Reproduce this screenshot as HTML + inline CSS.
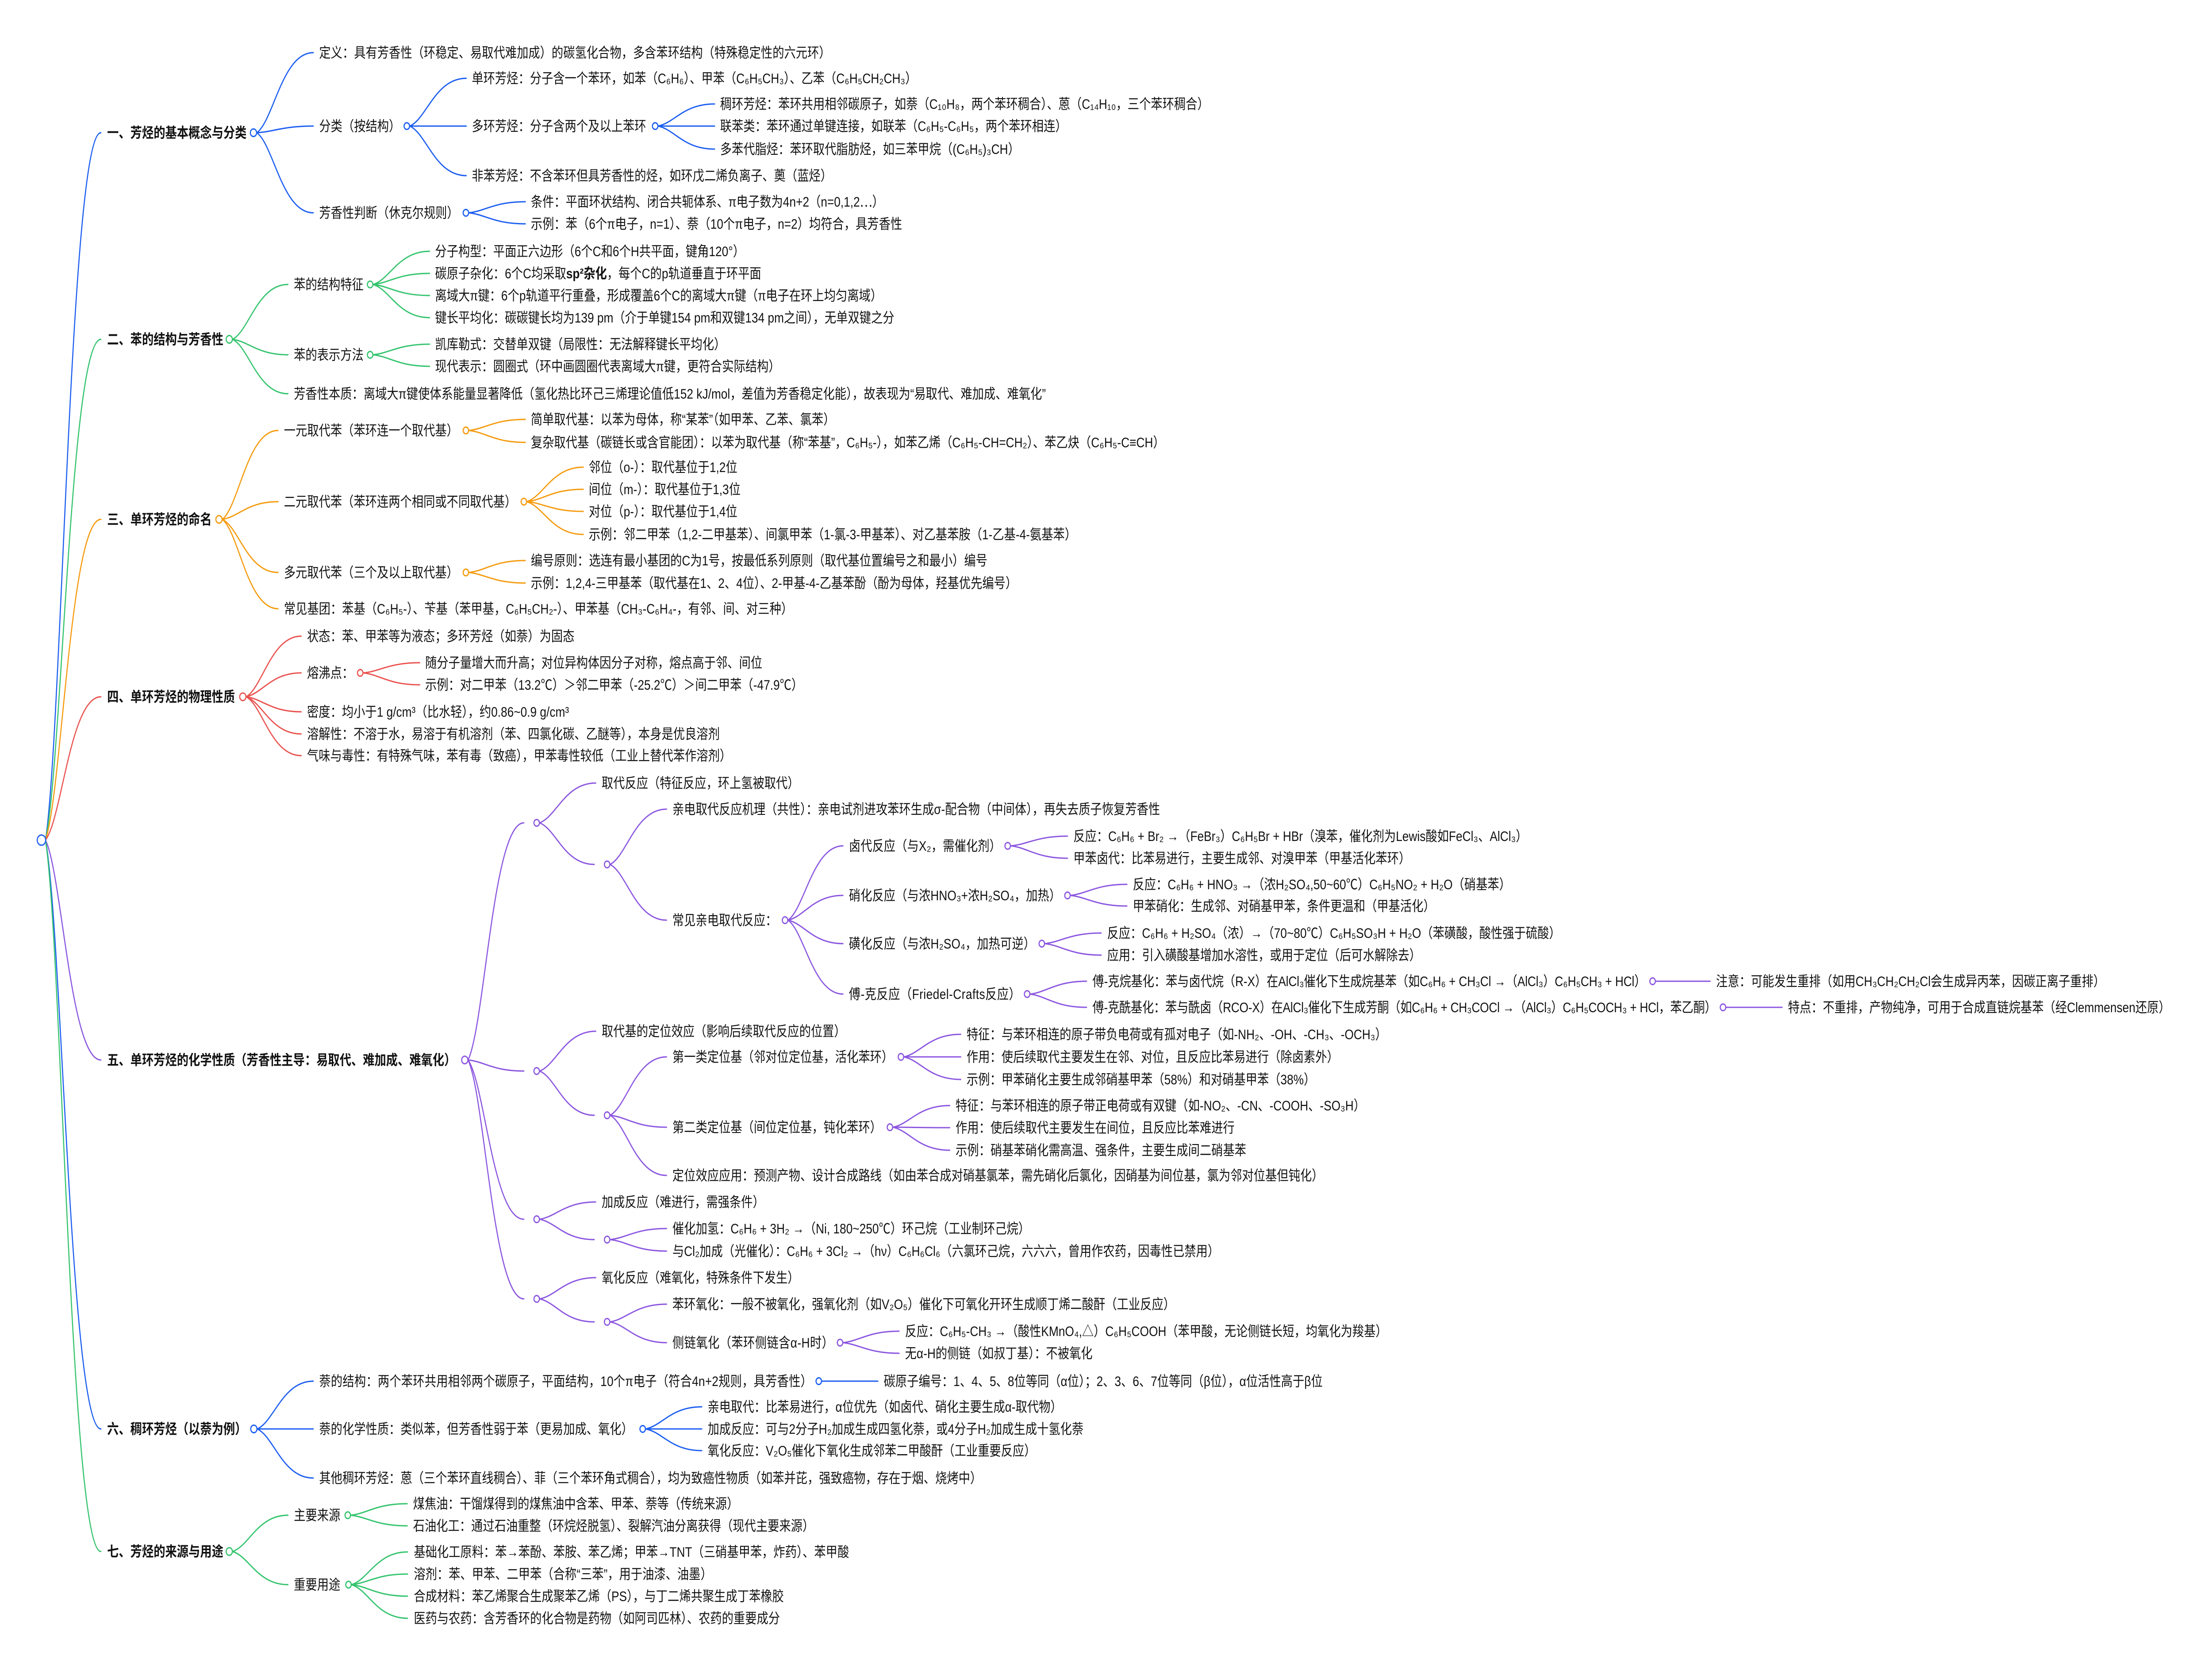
<!DOCTYPE html>
<html><head><meta charset="utf-8"><title>芳烃</title>
<style>
html,body{margin:0;padding:0;background:#fff;width:100%;height:100%;overflow:hidden;}
svg.main{display:block;position:fixed;left:0;top:0;width:100vw;height:100vh;}
</style></head>
<body>
<svg class="main" viewBox="0 0 6030 3741" preserveAspectRatio="none" xmlns="http://www.w3.org/2000/svg">
<style>
text{font-family:"Liberation Sans","Noto Sans CJK SC",sans-serif;font-size:31.7px;fill:#111}
.b{font-weight:bold}
path{fill:none;stroke-width:3;stroke-linecap:round}
circle{fill:#fff;stroke-width:3}
.bl{stroke:#1d5ff0}.gr{stroke:#35c46e}.or{stroke:#f59b0f}.rd{stroke:#e9534f}.pu{stroke:#8c57e0}
</style>
<rect width="6030" height="3741" fill="#fff"/>

<!-- root edges -->
<path class="bl" d="M124 1899c45 -240 68 -1599 151 -1599"/>
<path class="gr" d="M124 1899c45 -170 68 -1132 151 -1132"/>
<path class="or" d="M124 1899c45 -109 68 -725 151 -725"/>
<path class="rd" d="M124 1899c45 -49 68 -324 151 -324"/>
<path class="pu" d="M124 1899c45 75 68 497 151 497"/>
<path class="bl" d="M124 1899c45 200 68 1331 151 1331"/>
<path class="gr" d="M124 1899c45 241 68 1608 151 1608"/>

<!-- section 1 edges -->
<g class="bl">
<path d="M700 300c46 -27 69 -181 154 -181"/>
<path d="M700 300c46 -2 69 -15 154 -15"/>
<path d="M700 300c46 27 69 181 154 181"/>
<path d="M1117 285c46 -16 69 -108 154 -108"/>
<path d="M1117 285h154"/>
<path d="M1117 285c46 17 69 112 154 112"/>
<path d="M1794 285c46 -8 69 -50 154 -50"/>
<path d="M1794 285h154"/>
<path d="M1794 285c46 8 69 52 154 52"/>
<path d="M1278 481c46 -4 69 -25 154 -25"/>
<path d="M1278 481c46 4 69 25 154 25"/>
</g>
<!-- section 2 edges -->
<g class="gr">
<path d="M634 767c45 -19 68 -124 151 -124"/>
<path d="M634 767c45 5 68 35 151 35"/>
<path d="M634 767c45 18 68 123 151 123"/>
<path d="M1017 643c46 -11 69 -75 154 -75"/>
<path d="M1017 643c46 -4 69 -25 154 -25"/>
<path d="M1017 643c46 4 69 25 154 25"/>
<path d="M1017 643c46 11 69 75 154 75"/>
<path d="M1017 802c46 -4 69 -24 154 -24"/>
<path d="M1017 802c46 4 69 26 154 26"/>
</g>
<!-- section 3 edges -->
<g class="or">
<path d="M606 1174c46 -30 68 -201 152 -201"/>
<path d="M606 1174c46 -6 68 -40 152 -40"/>
<path d="M606 1174c46 18 68 120 152 120"/>
<path d="M606 1174c46 30 68 202 152 202"/>
<path d="M1278 973c46 -4 69 -25 154 -25"/>
<path d="M1278 973c46 4 69 27 154 27"/>
<path d="M1436 1134c46 -12 69 -78 154 -78"/>
<path d="M1436 1134c46 -4 69 -28 154 -28"/>
<path d="M1436 1134c46 3 69 22 154 22"/>
<path d="M1436 1134c46 11 69 74 154 74"/>
<path d="M1278 1294c46 -4 69 -27 154 -27"/>
<path d="M1278 1294c46 4 69 24 154 24"/>
</g>
<!-- section 4 edges -->
<g class="rd">
<path d="M671 1575c45 -21 68 -137 150 -137"/>
<path d="M671 1575c45 -8 68 -54 150 -54"/>
<path d="M671 1575c45 5 68 34 150 34"/>
<path d="M671 1575c45 13 68 84 150 84"/>
<path d="M671 1575c45 20 68 133 150 133"/>
<path d="M990 1521c46 -3 69 -23 154 -23"/>
<path d="M990 1521c46 4 69 27 154 27"/>
</g>
<!-- section 5 edges -->
<g class="pu">
<path d="M1276 2396c46 -80 68 -536 152 -536"/>
<path d="M1276 2396c46 4 68 25 152 25"/>
<path d="M1276 2396c46 54 68 360 152 360"/>
<path d="M1276 2396c46 81 68 540 152 540"/>
<path d="M1471 1860c46 -14 69 -90 153 -90"/>
<path d="M1471 1860c45 14 67 94 149 94"/>
<path d="M1663 1954c46 -19 69 -125 154 -125"/>
<path d="M1663 1954c46 19 69 126 154 126"/>
<path d="M2148 2080c45 -25 68 -168 150 -168"/>
<path d="M2148 2080c45 -8 68 -56 150 -56"/>
<path d="M2148 2080c45 8 68 53 150 53"/>
<path d="M2148 2080c45 25 68 167 150 167"/>
<path d="M2755 1912c47 -3 70 -22 155 -22"/>
<path d="M2755 1912c47 4 70 28 155 28"/>
<path d="M2918 2024c46 -4 69 -25 154 -25"/>
<path d="M2918 2024c46 4 69 24 154 24"/>
<path d="M2848 2133c46 -4 69 -24 154 -24"/>
<path d="M2848 2133c46 4 69 26 154 26"/>
<path d="M2808 2247c46 -4 69 -29 154 -29"/>
<path d="M2808 2247c46 5 69 30 154 30"/>
<path d="M4513 2218h149"/>
<path d="M4705 2277h153"/>
<path d="M1471 2421c46 -14 69 -90 153 -90"/>
<path d="M1471 2421c45 15 67 100 149 100"/>
<path d="M1663 2521c46 -20 69 -132 154 -132"/>
<path d="M1663 2521c46 4 69 27 154 27"/>
<path d="M1663 2521c46 20 69 136 154 136"/>
<path d="M2464 2389c46 -8 69 -51 155 -51"/>
<path d="M2464 2389h155"/>
<path d="M2464 2389c46 8 69 51 155 51"/>
<path d="M2434 2548c46 -7 69 -49 155 -49"/>
<path d="M2434 2548c46 0 69 1 155 1"/>
<path d="M2434 2548c46 8 69 52 155 52"/>
<path d="M1471 2756c46 -6 69 -39 153 -39"/>
<path d="M1471 2756c45 7 67 46 149 46"/>
<path d="M1663 2802c46 -4 69 -25 154 -25"/>
<path d="M1663 2802c46 4 69 26 154 26"/>
<path d="M1471 2936c46 -7 69 -48 153 -48"/>
<path d="M1471 2936c45 8 67 52 149 52"/>
<path d="M1663 2988c46 -6 69 -40 154 -40"/>
<path d="M1663 2988c46 7 69 47 154 47"/>
<path d="M2298 3035c46 -4 69 -26 153 -26"/>
<path d="M2298 3035c46 4 69 24 153 24"/>
</g>
<!-- section 6 edges -->
<g class="bl">
<path d="M701 3230c46 -16 69 -108 153 -108"/>
<path d="M701 3230h153"/>
<path d="M701 3230c46 17 69 111 153 111"/>
<path d="M2240 3122h153"/>
<path d="M1760 3230c46 -8 69 -50 153 -50"/>
<path d="M1760 3230h153"/>
<path d="M1760 3230c46 7 69 49 153 49"/>
</g>
<!-- section 7 edges -->
<g class="gr">
<path d="M634 3507c45 -12 68 -82 151 -82"/>
<path d="M634 3507c45 11 68 75 151 75"/>
<path d="M956 3425c46 -4 69 -26 154 -26"/>
<path d="M956 3425c46 4 69 24 154 24"/>
<path d="M958 3582c46 -11 69 -74 153 -74"/>
<path d="M958 3582c46 -4 69 -24 153 -24"/>
<path d="M958 3582c46 4 69 26 153 26"/>
<path d="M958 3582c46 11 69 76 153 76"/>
</g>

<!-- circles -->
<circle cx="113" cy="1899" r="11.5" stroke="#1d5ff0" stroke-width="3.5"/>
<g class="bl">
<circle cx="691" cy="300" r="8.5"/>
<circle cx="1109" cy="285" r="7.5"/>
<circle cx="1786" cy="285" r="7.5"/>
<circle cx="1270" cy="481" r="7.5"/>
<circle cx="692" cy="3230" r="8.5"/>
<circle cx="2232" cy="3122" r="7.5"/>
<circle cx="1752" cy="3230" r="7.5"/>
</g>
<g class="gr">
<circle cx="625" cy="767" r="8.5"/>
<circle cx="1009" cy="643" r="7.5"/>
<circle cx="1009" cy="802" r="7.5"/>
<circle cx="625" cy="3507" r="8.5"/>
<circle cx="948" cy="3425" r="7.5"/>
<circle cx="950" cy="3582" r="7.5"/>
</g>
<g class="or">
<circle cx="597" cy="1174" r="8.5"/>
<circle cx="1270" cy="973" r="7.5"/>
<circle cx="1428" cy="1134" r="7.5"/>
<circle cx="1270" cy="1294" r="7.5"/>
</g>
<g class="rd">
<circle cx="662" cy="1575" r="8.5"/>
<circle cx="982" cy="1521" r="7.5"/>
</g>
<g class="pu">
<circle cx="1267" cy="2396" r="8.5"/>
<circle cx="1463" cy="1860" r="7.5"/>
<circle cx="1655" cy="1954" r="7.5"/>
<circle cx="2140" cy="2080" r="7.5"/>
<circle cx="2747" cy="1912" r="7.5"/>
<circle cx="2910" cy="2024" r="7.5"/>
<circle cx="2840" cy="2133" r="7.5"/>
<circle cx="2800" cy="2247" r="7.5"/>
<circle cx="4505" cy="2218" r="7.5"/>
<circle cx="4697" cy="2277" r="7.5"/>
<circle cx="1463" cy="2421" r="7.5"/>
<circle cx="1655" cy="2521" r="7.5"/>
<circle cx="2456" cy="2389" r="7.5"/>
<circle cx="2426" cy="2548" r="7.5"/>
<circle cx="1463" cy="2756" r="7.5"/>
<circle cx="1655" cy="2802" r="7.5"/>
<circle cx="1463" cy="2936" r="7.5"/>
<circle cx="1655" cy="2988" r="7.5"/>
<circle cx="2290" cy="3035" r="7.5"/>
</g>

<!-- section 1 text -->
<text class="b" x="292" y="311">一、芳烃的基本概念与分类</text>
<text x="870" y="130">定义：具有芳香性（环稳定、易取代难加成）的碳氢化合物，多含苯环结构（特殊稳定性的六元环）</text>
<text x="870" y="296">分类（按结构）</text>
<text x="1286" y="188">单环芳烃：分子含一个苯环，如苯（C₆H₆）、甲苯（C₆H₅CH₃）、乙苯（C₆H₅CH₂CH₃）</text>
<text x="1286" y="296">多环芳烃：分子含两个及以上苯环</text>
<text x="1963" y="246">稠环芳烃：苯环共用相邻碳原子，如萘（C₁₀H₈，两个苯环稠合）、蒽（C₁₄H₁₀，三个苯环稠合）</text>
<text x="1963" y="296">联苯类：苯环通过单键连接，如联苯（C₆H₅-C₆H₅，两个苯环相连）</text>
<text x="1963" y="348">多苯代脂烃：苯环取代脂肪烃，如三苯甲烷（(C₆H₅)₃CH）</text>
<text x="1286" y="408">非苯芳烃：不含苯环但具芳香性的烃，如环戊二烯负离子、薁（蓝烃）</text>
<text x="870" y="492">芳香性判断（休克尔规则）</text>
<text x="1447" y="467">条件：平面环状结构、闭合共轭体系、π电子数为4n+2（n=0,1,2⋯）</text>
<text x="1447" y="517">示例：苯（6个π电子，n=1）、萘（10个π电子，n=2）均符合，具芳香性</text>

<!-- section 2 text -->
<text class="b" x="292" y="778">二、苯的结构与芳香性</text>
<text x="801" y="654">苯的结构特征</text>
<text x="1186" y="579">分子构型：平面正六边形（6个C和6个H共平面，键角120°）</text>
<text x="1186" y="629">碳原子杂化：6个C均采取<tspan class="b">sp²杂化</tspan>，每个C的p轨道垂直于环平面</text>
<text x="1186" y="679">离域大π键：6个p轨道平行重叠，形成覆盖6个C的离域大π键（π电子在环上均匀离域）</text>
<text x="1186" y="729">键长平均化：碳碳键长均为139 pm（介于单键154 pm和双键134 pm之间），无单双键之分</text>
<text x="801" y="813">苯的表示方法</text>
<text x="1186" y="789">凯库勒式：交替单双键（局限性：无法解释键长平均化）</text>
<text x="1186" y="839">现代表示：圆圈式（环中画圆圈代表离域大π键，更符合实际结构）</text>
<text x="801" y="901">芳香性本质：离域大π键使体系能量显著降低（氢化热比环己三烯理论值低152 kJ/mol，差值为芳香稳定化能），故表现为“易取代、难加成、难氧化”</text>

<!-- section 3 text -->
<text class="b" x="292" y="1185">三、单环芳烃的命名</text>
<text x="774" y="984">一元取代苯（苯环连一个取代基）</text>
<text x="1447" y="959">简单取代基：以苯为母体，称“某苯”（如甲苯、乙苯、氯苯）</text>
<text x="1447" y="1011">复杂取代基（碳链长或含官能团）：以苯为取代基（称“苯基”，C₆H₅-），如苯乙烯（C₆H₅-CH=CH₂）、苯乙炔（C₆H₅-C≡CH）</text>
<text x="774" y="1145">二元取代苯（苯环连两个相同或不同取代基）</text>
<text x="1605" y="1067">邻位（o-）：取代基位于1,2位</text>
<text x="1605" y="1117">间位（m-）：取代基位于1,3位</text>
<text x="1605" y="1167">对位（p-）：取代基位于1,4位</text>
<text x="1605" y="1219">示例：邻二甲苯（1,2-二甲基苯）、间氯甲苯（1-氯-3-甲基苯）、对乙基苯胺（1-乙基-4-氨基苯）</text>
<text x="774" y="1305">多元取代苯（三个及以上取代基）</text>
<text x="1447" y="1278">编号原则：选连有最小基团的C为1号，按最低系列原则（取代基位置编号之和最小）编号</text>
<text x="1447" y="1329">示例：1,2,4-三甲基苯（取代基在1、2、4位）、2-甲基-4-乙基苯酚（酚为母体，羟基优先编号）</text>
<text x="774" y="1387">常见基团：苯基（C₆H₅-）、苄基（苯甲基，C₆H₅CH₂-）、甲苯基（CH₃-C₆H₄-，有邻、间、对三种）</text>

<!-- section 4 text -->
<text class="b" x="292" y="1586">四、单环芳烃的物理性质</text>
<text x="837" y="1449">状态：苯、甲苯等为液态；多环芳烃（如萘）为固态</text>
<text x="837" y="1532">熔沸点：</text>
<text x="1159" y="1509">随分子量增大而升高；对位异构体因分子对称，熔点高于邻、间位</text>
<text x="1159" y="1559">示例：对二甲苯（13.2℃）＞邻二甲苯（-25.2℃）＞间二甲苯（-47.9℃）</text>
<text x="837" y="1620">密度：均小于1 g/cm³（比水轻），约0.86~0.9 g/cm³</text>
<text x="837" y="1670">溶解性：不溶于水，易溶于有机溶剂（苯、四氯化碳、乙醚等），本身是优良溶剂</text>
<text x="837" y="1719">气味与毒性：有特殊气味，苯有毒（致癌），甲苯毒性较低（工业上替代苯作溶剂）</text>

<!-- section 5 text -->
<text class="b" x="292" y="2407">五、单环芳烃的化学性质（芳香性主导：易取代、难加成、难氧化）</text>
<text x="1640" y="1781">取代反应（特征反应，环上氢被取代）</text>
<text x="1833" y="1840">亲电取代反应机理（共性）：亲电试剂进攻苯环生成σ-配合物（中间体），再失去质子恢复芳香性</text>
<text x="1833" y="2091">常见亲电取代反应：</text>
<text x="2314" y="1923" textLength="415">卤代反应（与X₂，需催化剂）</text>
<text x="2926" y="1901">反应：C₆H₆ + Br₂ →（FeBr₃）C₆H₅Br + HBr（溴苯，催化剂为Lewis酸如FeCl₃、AlCl₃）</text>
<text x="2926" y="1951">甲苯卤代：比苯易进行，主要生成邻、对溴甲苯（甲基活化苯环）</text>
<text x="2314" y="2035" textLength="578">硝化反应（与浓HNO₃+浓H₂SO₄，加热）</text>
<text x="3088" y="2010">反应：C₆H₆ + HNO₃ →（浓H₂SO₄,50~60℃）C₆H₅NO₂ + H₂O（硝基苯）</text>
<text x="3088" y="2059">甲苯硝化：生成邻、对硝基甲苯，条件更温和（甲基活化）</text>
<text x="2314" y="2144" textLength="508">磺化反应（与浓H₂SO₄，加热可逆）</text>
<text x="3018" y="2120">反应：C₆H₆ + H₂SO₄（浓）→（70~80℃）C₆H₅SO₃H + H₂O（苯磺酸，酸性强于硫酸）</text>
<text x="3018" y="2170">应用：引入磺酸基增加水溶性，或用于定位（后可水解除去）</text>
<text x="2314" y="2258" textLength="468">傅-克反应（Friedel-Crafts反应）</text>
<text x="2978" y="2229" textLength="1509">傅-克烷基化：苯与卤代烷（R-X）在AlCl₃催化下生成烷基苯（如C₆H₆ + CH₃Cl →（AlCl₃）C₆H₅CH₃ + HCl）</text>
<text x="4678" y="2229">注意：可能发生重排（如用CH₃CH₂CH₂Cl会生成异丙苯，因碳正离子重排）</text>
<text x="2978" y="2288" textLength="1701">傅-克酰基化：苯与酰卤（RCO-X）在AlCl₃催化下生成芳酮（如C₆H₆ + CH₃COCl →（AlCl₃）C₆H₅COCH₃ + HCl，苯乙酮）</text>
<text x="4874" y="2288">特点：不重排，产物纯净，可用于合成直链烷基苯（经Clemmensen还原）</text>
<text x="1640" y="2342">取代基的定位效应（影响后续取代反应的位置）</text>
<text x="1833" y="2400">第一类定位基（邻对位定位基，活化苯环）</text>
<text x="2635" y="2349">特征：与苯环相连的原子带负电荷或有孤对电子（如-NH₂、-OH、-CH₃、-OCH₃）</text>
<text x="2635" y="2400">作用：使后续取代主要发生在邻、对位，且反应比苯易进行（除卤素外）</text>
<text x="2635" y="2451">示例：甲苯硝化主要生成邻硝基甲苯（58%）和对硝基甲苯（38%）</text>
<text x="1833" y="2559">第二类定位基（间位定位基，钝化苯环）</text>
<text x="2605" y="2510">特征：与苯环相连的原子带正电荷或有双键（如-NO₂、-CN、-COOH、-SO₃H）</text>
<text x="2605" y="2560">作用：使后续取代主要发生在间位，且反应比苯难进行</text>
<text x="2605" y="2611">示例：硝基苯硝化需高温、强条件，主要生成间二硝基苯</text>
<text x="1833" y="2668">定位效应应用：预测产物、设计合成路线（如由苯合成对硝基氯苯，需先硝化后氯化，因硝基为间位基，氯为邻对位基但钝化）</text>
<text x="1640" y="2728">加成反应（难进行，需强条件）</text>
<text x="1833" y="2788">催化加氢：C₆H₆ + 3H₂ →（Ni, 180~250℃）环己烷（工业制环己烷）</text>
<text x="1833" y="2839">与Cl₂加成（光催化）：C₆H₆ + 3Cl₂ →（hν）C₆H₆Cl₆（六氯环己烷，六六六，曾用作农药，因毒性已禁用）</text>
<text x="1640" y="2899">氧化反应（难氧化，特殊条件下发生）</text>
<text x="1833" y="2959">苯环氧化：一般不被氧化，强氧化剂（如V₂O₅）催化下可氧化开环生成顺丁烯二酸酐（工业反应）</text>
<text x="1833" y="3046" textLength="439">侧链氧化（苯环侧链含α-H时）</text>
<text x="2467" y="3020">反应：C₆H₅-CH₃ →（酸性KMnO₄,△）C₆H₅COOH（苯甲酸，无论侧链长短，均氧化为羧基）</text>
<text x="2467" y="3070">无α-H的侧链（如叔丁基）：不被氧化</text>

<!-- section 6 text -->
<text class="b" x="292" y="3241">六、稠环芳烃（以萘为例）</text>
<text x="870" y="3133" textLength="1344">萘的结构：两个苯环共用相邻两个碳原子，平面结构，10个π电子（符合4n+2规则，具芳香性）</text>
<text x="2409" y="3133">碳原子编号：1、4、5、8位等同（α位）；2、3、6、7位等同（β位），α位活性高于β位</text>
<text x="870" y="3241">萘的化学性质：类似苯，但芳香性弱于苯（更易加成、氧化）</text>
<text x="1929" y="3191">亲电取代：比苯易进行，α位优先（如卤代、硝化主要生成α-取代物）</text>
<text x="1929" y="3241">加成反应：可与2分子H₂加成生成四氢化萘，或4分子H₂加成生成十氢化萘</text>
<text x="1929" y="3290">氧化反应：V₂O₅催化下氧化生成邻苯二甲酸酐（工业重要反应）</text>
<text x="870" y="3352">其他稠环芳烃：蒽（三个苯环直线稠合）、菲（三个苯环角式稠合），均为致癌性物质（如苯并芘，强致癌物，存在于烟、烧烤中）</text>

<!-- section 7 text -->
<text class="b" x="292" y="3518">七、芳烃的来源与用途</text>
<text x="801" y="3436">主要来源</text>
<text x="1126" y="3410">煤焦油：干馏煤得到的煤焦油中含苯、甲苯、萘等（传统来源）</text>
<text x="1126" y="3460">石油化工：通过石油重整（环烷烃脱氢）、裂解汽油分离获得（现代主要来源）</text>
<text x="801" y="3593">重要用途</text>
<text x="1128" y="3519">基础化工原料：苯→苯酚、苯胺、苯乙烯；甲苯→TNT（三硝基甲苯，炸药）、苯甲酸</text>
<text x="1128" y="3569">溶剂：苯、甲苯、二甲苯（合称“三苯”，用于油漆、油墨）</text>
<text x="1128" y="3619">合成材料：苯乙烯聚合生成聚苯乙烯（PS），与丁二烯共聚生成丁苯橡胶</text>
<text x="1128" y="3669">医药与农药：含芳香环的化合物是药物（如阿司匹林）、农药的重要成分</text>
</svg>
</body></html>
